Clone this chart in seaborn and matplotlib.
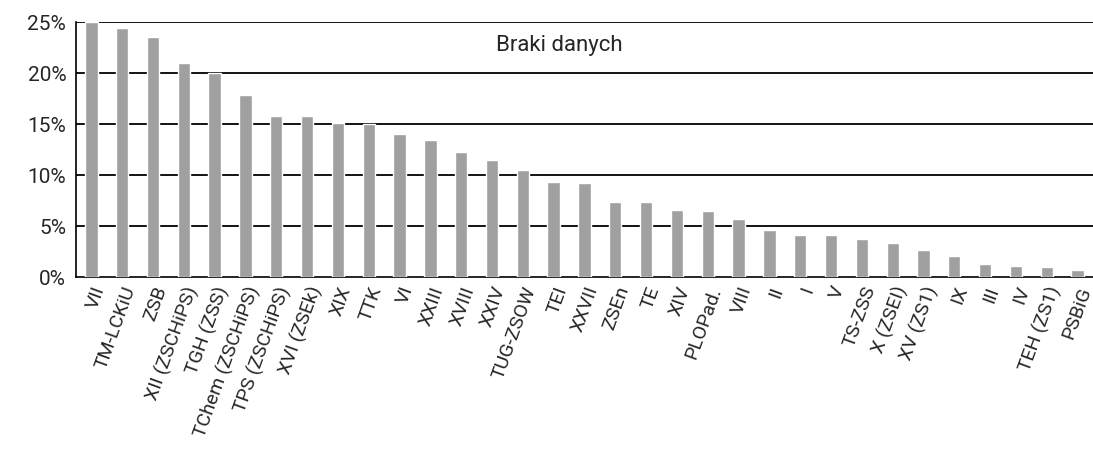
import numpy as np
import pandas as pd
import seaborn as sns
import matplotlib.pyplot as plt
from matplotlib.ticker import FixedLocator, PercentFormatter

# values (share of missing data, %)
jednostki = ["VII", "TM-LCKiU", "ZSB", "XII (ZSCHiPS)", "TGH (ZSS)", "TChem (ZSCHiPS)",
             "TPS (ZSCHiPS)", "XVI (ZSEk)", "XIX", "TTK", "VI", "XXIII", "XVIII", "XXIV",
             "TUG-ZSOW", "TEI", "XXVII", "ZSEn", "TE", "XIV", "PLOPad.", "VIII", "II", "I",
             "V", "TS-ZSS", "X (ZSEI)", "XV (ZS1)", "IX", "III", "IV", "TEH (ZS1)", "PSBiG"]
braki = [25.0, 24.4, 23.5, 21.0, 20.0, 17.9, 15.8, 15.8, 15.1, 15.0, 14.0, 13.4, 12.3, 11.5,
         10.5, 9.3, 9.2, 7.4, 7.35, 6.6, 6.5, 5.7, 4.6, 4.15, 4.1, 3.75, 3.3, 2.7, 2.1, 1.3,
         1.1, 0.95, 0.65]
y_ticks = [0, 5, 10, 15, 20, 25]
tytul = "Braki danych"

data = pd.DataFrame({"jednostka": jednostki, "braki": braki})

sns.set_style("white")
plt.rcParams["font.family"] = ["Roboto", "DejaVu Sans"]

fig = plt.figure(figsize=(10.93, 4.61), dpi=100)
ax = fig.add_axes([0.0695, 0.399, 0.9305, 0.553])

sns.barplot(data=data, x="jednostka", y="braki", color="#a0a0a0", width=0.4,
            saturation=1, ax=ax, zorder=3)

ax.set_ylim(0, 25)
ax.set_xlim(-0.5, len(jednostki) - 0.5)
ax.set_yticks(y_ticks)
ax.yaxis.set_major_formatter(PercentFormatter(decimals=0))
for y in y_ticks[1:]:
    ax.axhline(y, color="black", lw=1.3, zorder=1)

ax.set_xlabel("")
ax.set_ylabel("")
for s in ["top", "right"]:
    ax.spines[s].set_visible(False)
ax.spines["left"].set_color("black")
ax.spines["bottom"].set_color("black")
ax.spines["left"].set_linewidth(1.2)
ax.spines["bottom"].set_linewidth(1.2)

ax.tick_params(axis="y", length=4, width=1, color="black", labelsize=15, pad=3)
ax.tick_params(axis="x", which="major", length=0, labelsize=14, pad=5)
ax.xaxis.set_minor_locator(FixedLocator(np.arange(len(jednostki)) - 0.5))
ax.tick_params(axis="x", which="minor", length=5, width=1, color="black")
plt.setp(ax.get_xticklabels(), rotation=70, ha="right", rotation_mode="anchor")

ax.text(0.475, 0.91, tytul, transform=ax.transAxes, ha="center", va="center",
        fontsize=16, zorder=4)

fig.savefig("out.png", dpi=100)
